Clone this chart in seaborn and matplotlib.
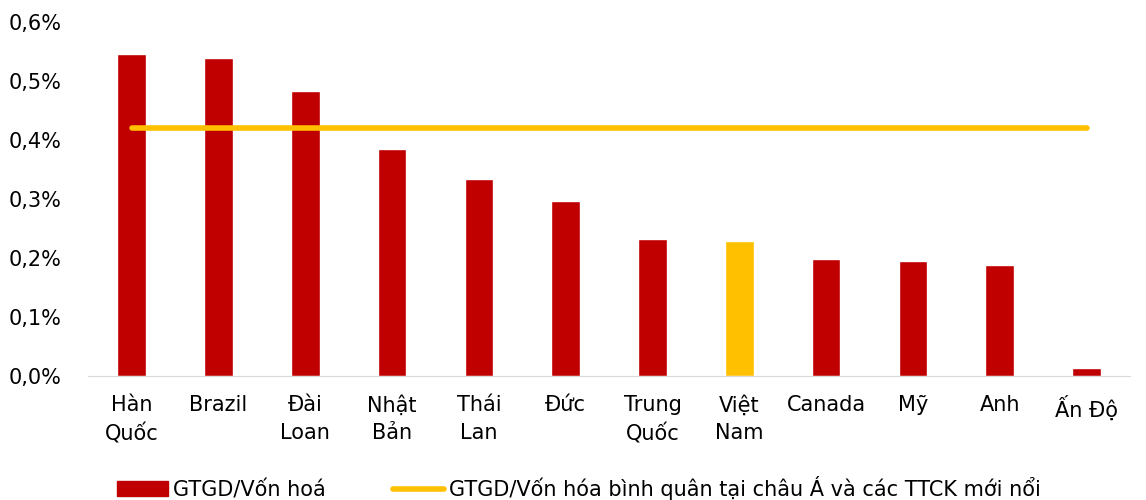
import matplotlib
matplotlib.use("Agg")
import matplotlib.pyplot as plt
import seaborn as sns
from matplotlib.patches import Patch
from matplotlib.lines import Line2D
from matplotlib.ticker import FuncFormatter

# GTGD / von hoa theo thi truong
countries = ["Hàn\nQuốc", "Brazil", "Đài\nLoan", "Nhật\nBản", "Thái\nLan", "Đức",
             "Trung\nQuốc", "Việt\nNam", "Canada", "Mỹ", "Anh", "Ấn Độ"]
ratio = [0.546, 0.539, 0.483, 0.385, 0.334, 0.297, 0.232, 0.229, 0.198, 0.195, 0.188, 0.014]
avg_asia_em = 0.420

red = "#C00000"
gold = "#FFC000"
bar_colors = [gold if c == "Việt\nNam" else red for c in countries]

sns.set_style("white")
plt.rcParams['font.family'] = ['DejaVu Sans']
plt.rcParams['text.color'] = 'black'

fig = plt.figure(figsize=(11.46, 5), dpi=100)
ax = fig.add_axes([0.077, 0.248, 0.909, 0.708])

sns.barplot(x=countries, y=ratio, hue=countries, palette=bar_colors,
            legend=False, width=0.33, ax=ax, saturation=1)
ax.plot([0, len(countries) - 1], [avg_asia_em, avg_asia_em], color=gold,
        lw=4, solid_capstyle="round")

ax.set_ylim(0, 0.6)
ax.set_xlim(-0.5, len(countries) - 0.5)
ax.set_yticks([0, 0.1, 0.2, 0.3, 0.4, 0.5, 0.6])
ax.yaxis.set_major_formatter(FuncFormatter(lambda v, p: f"{v:.1f}%".replace(".", ",")))
ax.tick_params(axis="both", labelsize=15, length=0, colors="black")
ax.tick_params(axis="x", pad=14)
ax.tick_params(axis="y", pad=19)
for lbl in ax.get_xticklabels():
    lbl.set_linespacing(1.45)
for s in ["top", "right", "left"]:
    ax.spines[s].set_visible(False)
ax.spines["bottom"].set_color("#D9D9D9")
ax.set_xlabel("")
ax.set_ylabel("")

handles = [Patch(color=red, label="GTGD/Vốn hoá"),
           Line2D([0], [0], color=gold, lw=4, solid_capstyle="round",
                  label="GTGD/Vốn hóa bình quân tại châu Á và các TTCK mới nổi")]
leg = fig.legend(handles=handles, loc="center left", bbox_to_anchor=(117 / 1146, 0.024),
                 ncol=2, frameon=False, fontsize=15, handlelength=2.45,
                 handletextpad=0.25, columnspacing=3.2, borderpad=0, borderaxespad=0)
for t in leg.get_texts():
    t.set_color("black")

fig.savefig("out.png", dpi=100)
